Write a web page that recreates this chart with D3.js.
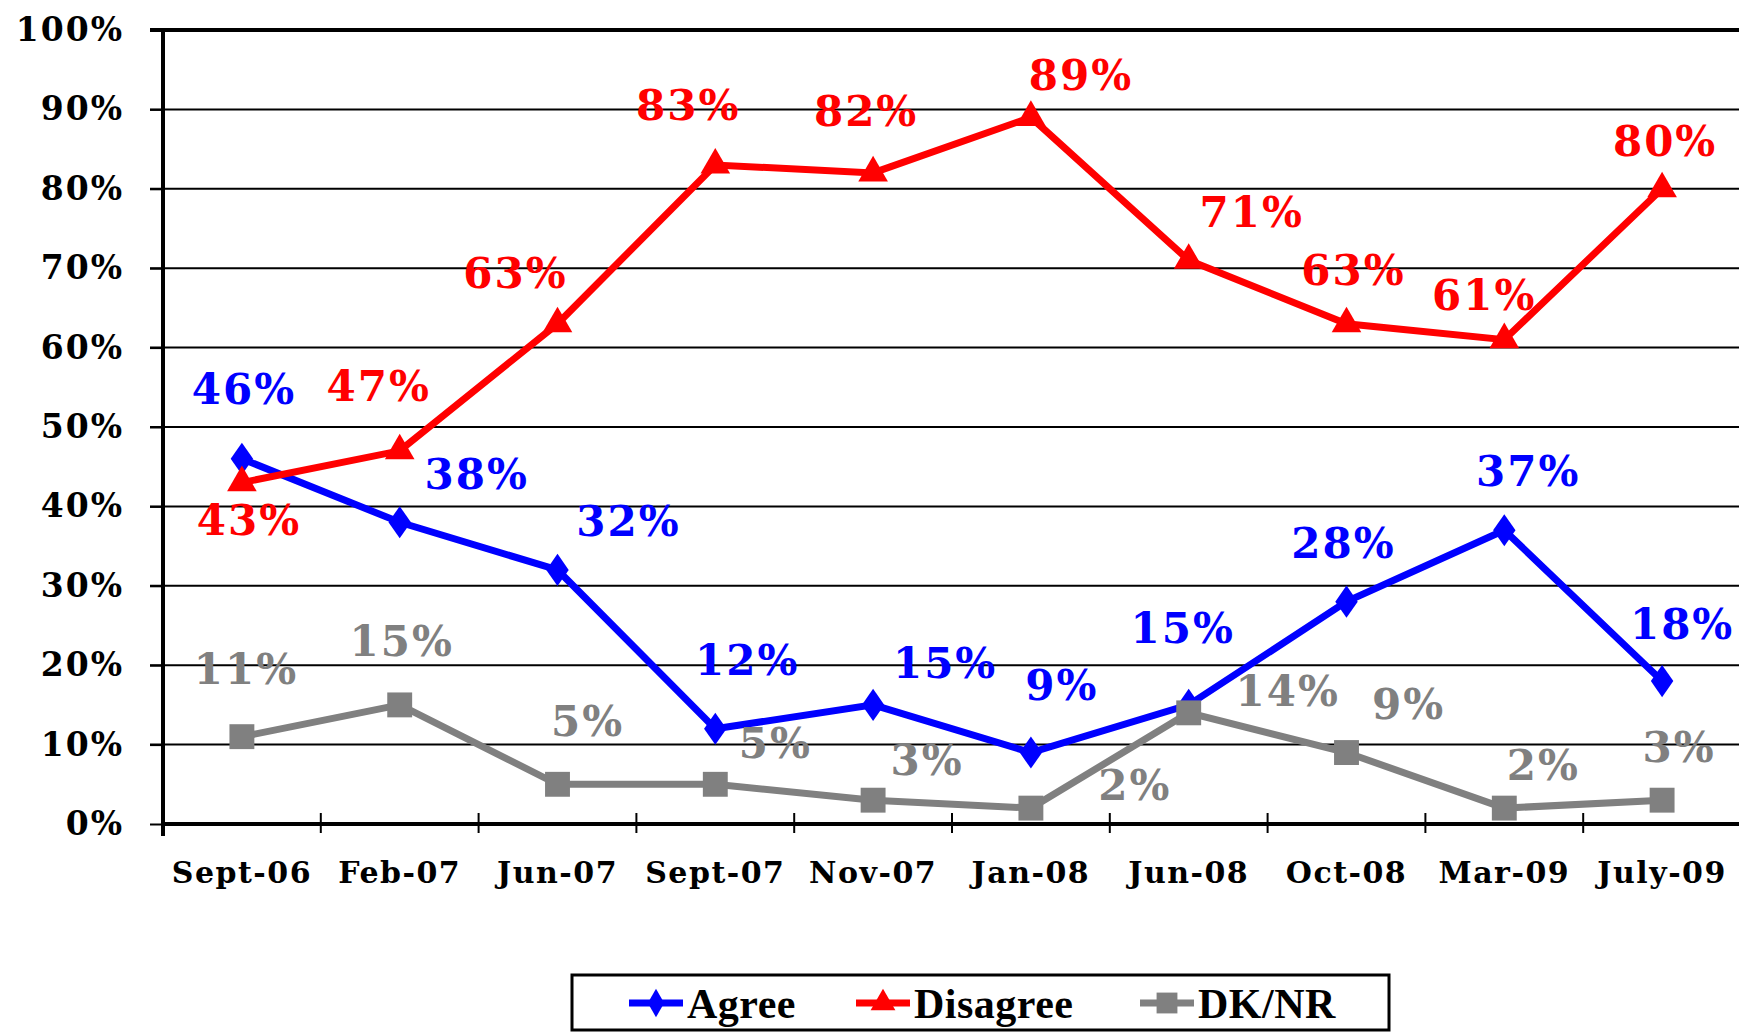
<!DOCTYPE html>
<html>
<head>
<meta charset="utf-8">
<script src="https://cdn.jsdelivr.net/npm/d3@7"></script>
<style>
  body { margin: 0; background: #fff; }
  svg { display: block; }
  .lbl { font-family: "DejaVu Serif", serif; font-weight: bold; }
</style>
</head>
<body>
<div id="chart"></div>
<script>
// Données
const categories = ["Sept-06", "Feb-07", "Jun-07", "Sept-07", "Nov-07", "Jan-08", "Jun-08", "Oct-08", "Mar-09", "July-09"];
const agree = [46, 38, 32, 12, 15, 9, 15, 28, 37, 18];
const disagree = [43, 47, 63, 83, 82, 89, 71, 63, 61, 80];
const dknr = [11, 15, 5, 5, 3, 2, 14, 9, 2, 3];
const yTicks = [0, 10, 20, 30, 40, 50, 60, 70, 80, 90, 100];

// Placement des étiquettes (décalage en px par rapport au point)
const agreeLabelOffset = [[2, -70], [77, -48], [71, -49], [32, -69], [72, -42], [31, -68], [-6, -77], [-3, -59], [24, -59], [20, -57]];
const disagreeLabelOffset = [[7, 37], [-21, -65], [-42, -51], [-27, -60], [-7, -62], [50, -42], [63, -48], [7, -54], [-20, -45], [3, -48]];
const dkLabelOffset = [[4, -68], [2, -64], [30, -63], [60, -41], [54, -40], [104, -23], [99, -22], [62, -49], [39, -43], [17, -53]];

const W = 1739, H = 1032;
const margin = {top: 30, right: -2, bottom: 208, left: 163};

const svg = d3.select('#chart').append('svg')
    .attr('width', W).attr('height', H);

const x = d3.scaleBand()
    .domain(categories)
    .range([margin.left, W - margin.right]);

const y = d3.scaleLinear()
    .domain([0, 100])
    .range([H - margin.bottom, margin.top]);

const cx = d => x(d) + x.bandwidth() / 2;

// Grille horizontale
svg.append('g')
    .selectAll('line')
    .data(yTicks.filter(t => t > 0))
    .join('line')
    .attr('x1', margin.left - 13).attr('x2', W)
    .attr('y1', d => y(d)).attr('y2', d => y(d))
    .attr('stroke', '#000')
    .attr('stroke-width', d => d === 100 ? 4 : 2);

// Axe Y
const yAxis = svg.append('g')
    .attr('transform', `translate(${margin.left},0)`)
    .call(d3.axisLeft(y).tickValues(yTicks).tickSize(13).tickPadding(26).tickFormat(d => d + '%'));
yAxis.select('.domain').attr('stroke-width', 4).attr('d', `M0,${y(100) - 2}V${y(0) + 12}`);
yAxis.selectAll('.tick line').attr('stroke-width', 2);
yAxis.selectAll('.tick text')
    .attr('class', 'lbl')
    .attr('font-size', 33)
    .attr('letter-spacing', 2)
    .attr('fill', '#000');

// Axe X
const xAxis = svg.append('g')
    .attr('transform', `translate(0,${y(0)})`)
    .call(d3.axisBottom(x).tickSize(0).tickPadding(38));
xAxis.select('.domain').attr('stroke-width', 4).attr('d', `M${margin.left},0H${W}`);
xAxis.selectAll('.tick text')
    .attr('class', 'lbl')
    .attr('font-size', 30)
    .attr('letter-spacing', 1.5)
    .attr('fill', '#000');
// Graduations entre catégories
xAxis.append('g')
    .selectAll('line')
    .data(categories)
    .join('line')
    .attr('x1', d => x(d)).attr('x2', d => x(d))
    .attr('y1', -11).attr('y2', 9)
    .attr('stroke', '#000').attr('stroke-width', 2);

// Séries
const series = [
    {name: 'Agree', values: agree, color: '#0000FF', symbol: d3.symbolDiamond, size: 330, offsets: agreeLabelOffset},
    {name: 'Disagree', values: disagree, color: '#FF0000', symbol: d3.symbolTriangle, size: 380, offsets: disagreeLabelOffset},
    {name: 'DK/NR', values: dknr, color: '#808080', symbol: d3.symbolSquare, size: 620, offsets: dkLabelOffset}
];

const line = d3.line()
    .x((d, i) => cx(categories[i]))
    .y(d => y(d));

series.forEach(s => {
    const g = svg.append('g');
    g.append('path')
        .datum(s.values)
        .attr('d', line)
        .attr('fill', 'none')
        .attr('stroke', s.color)
        .attr('stroke-width', 7);
    g.selectAll('path.mk')
        .data(s.values)
        .join('path')
        .attr('class', 'mk')
        .attr('d', d3.symbol().type(s.symbol).size(s.size))
        .attr('transform', (d, i) => `translate(${cx(categories[i])},${y(d)})` + (s.name === 'Agree' ? ' scale(1.15,0.95)' : ''))
        .attr('fill', s.color);
});

// Étiquettes de valeurs
series.forEach(s => {
    svg.append('g')
        .selectAll('text')
        .data(s.values)
        .join('text')
        .attr('class', 'lbl')
        .attr('x', (d, i) => cx(categories[i]) + s.offsets[i][0])
        .attr('y', (d, i) => y(d) + s.offsets[i][1])
        .attr('dy', '0.36em')
        .attr('text-anchor', 'middle')
        .attr('font-size', 42)
        .attr('letter-spacing', 2)
        .attr('fill', s.color)
        .text(d => d + '%');
});

// Légende
const legend = svg.append('g');
legend.append('rect')
    .attr('x', 572).attr('y', 975)
    .attr('width', 817).attr('height', 55)
    .attr('fill', '#fff').attr('stroke', '#000').attr('stroke-width', 3);

const legendX = [629, 856, 1140];
series.forEach((s, i) => {
    const lg = legend.append('g').attr('transform', `translate(${legendX[i]},1003)`);
    lg.append('line')
        .attr('x1', 0).attr('x2', 54)
        .attr('stroke', s.color).attr('stroke-width', 7);
    lg.append('path')
        .attr('d', d3.symbol().type(s.symbol).size(s.size * 0.7))
        .attr('transform', 'translate(27,0)')
        .attr('fill', s.color);
    lg.append('text')
        .attr('x', 58)
        .attr('dy', '0.35em')
        .attr('font-family', '"Liberation Serif", serif')
        .attr('font-weight', 'bold')
        .attr('font-size', 42)
        .attr('letter-spacing', 0.5)
        .attr('fill', '#000')
        .text(s.name);
});
</script>
</body>
</html>
